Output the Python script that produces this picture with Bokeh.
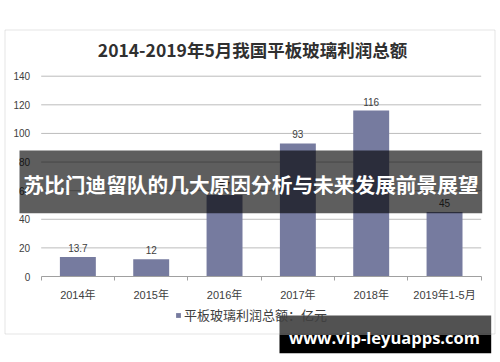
from bokeh.plotting import figure
from bokeh.models import (Range1d, FixedTicker, ColumnDataSource, LabelSet, Label,
                          BoxAnnotation, Legend, LegendItem, LinearAxis)
from bokeh.core.properties import value
from bokeh.embed import file_html
from bokeh.resources import INLINE

# ---- data ----
categories = ["2014年", "2015年", "2016年", "2017年", "2018年", "2019年1-5月"]
profits = [13.7, 12, 57, 93, 116, 45]
y_ticks = [0, 20, 40, 60, 80, 100, 120, 140]
title_text = "2014-2019年5月我国平板玻璃利润总额"
series_name = "平板玻璃利润总额：亿元"
banner_text = "苏比门迪留队的几大原因分析与未来发展前景展望"
watermark_text = "www.vip-leyuapps.com"

# ---- layout (frame = whole figure, page origin = figure origin) ----
FIG_W, FIG_H = 500, 362
PLOT_L, PLOT_R = 40.7, 480.7      # x of category axis ends
PLOT_T, PLOT_B = 75.7, 276.0      # y of top (140) and bottom (0)
n = len(categories)
ppx = (PLOT_R - PLOT_L) / n
ppy = (PLOT_B - PLOT_T) / (y_ticks[-1] - y_ticks[0])
x_start = -PLOT_L / ppx
x_end = x_start + FIG_W / ppx
y_start = -(FIG_H - PLOT_B) / ppy
y_end = y_start + FIG_H / ppy


def sx(X):
    return X


def sy(Y):
    return FIG_H - Y


LATIN = "'Liberation Sans', 'Noto Sans CJK SC'"
CJK = "'Noto Sans CJK SC'"
TXT = "#404040"
GRID = "#bcbcbc"
BAR = "#767b9f"

xs = [i + 0.5 for i in range(n)]

p = figure(width=FIG_W, height=FIG_H, output_backend="svg", toolbar_location=None,
           x_range=Range1d(x_start, x_end), y_range=Range1d(y_start, y_end),
           min_border=0, x_axis_location=None, y_axis_location=None,
           background_fill_color="white", border_fill_color="white")
p.outline_line_color = None
p.xgrid.visible = False
p.ygrid.visible = False

# gridlines from the tick list
p.segment(x0=0, x1=n, y0=y_ticks[1:], y1=y_ticks[1:], line_color=GRID, line_width=1)

src = ColumnDataSource(dict(x=xs, top=profits, label=[f"{v:g}" for v in profits]))
bars = p.vbar(x="x", top="top", width=0.49, bottom=0, source=src,
              fill_color=BAR, line_color=None)

# y axis (fixed at category start)
yax = LinearAxis(fixed_location=0, ticker=FixedTicker(ticks=y_ticks))
yax.axis_line_color = None
yax.major_tick_line_color = None
yax.minor_tick_line_color = None
yax.major_tick_out = 0
yax.major_label_standoff = 11
yax.major_label_text_font = LATIN
yax.major_label_text_font_size = "10px"
yax.major_label_text_color = TXT
p.add_layout(yax, "left")

# x axis: labels at centres, ticks at boundaries
xax = LinearAxis(fixed_location=0, bounds=(0, n),
                 ticker=FixedTicker(ticks=xs, minor_ticks=list(range(n + 1))))
xax.major_label_overrides = {x: c for x, c in zip(xs, categories)}
xax.axis_line_color = "#a0a0a0"
xax.major_tick_line_color = None
xax.major_tick_out = 0
xax.minor_tick_line_color = "#a0a0a0"
xax.minor_tick_out = 4
xax.minor_tick_in = 0
xax.major_label_standoff = 8
xax.major_label_text_font = LATIN
xax.major_label_text_font_size = "11px"
xax.major_label_text_color = TXT
p.add_layout(xax, "below")

# value labels
p.add_layout(LabelSet(x="x", y="top", text="label", source=src, y_offset=5,
                      text_align="center", text_baseline="bottom",
                      text_font=value(LATIN), text_font_size="10px", text_color=TXT))

# outer chart border
p.add_layout(BoxAnnotation(left=sx(4.5), right=sx(494.5), top=sy(29.5), bottom=sy(333.5),
                           left_units="screen", right_units="screen",
                           top_units="screen", bottom_units="screen",
                           fill_color=None, line_color="#a6a6a6", line_width=1,
                           level="underlay"))

# title
p.add_layout(Label(x=sx(252), y=sy(49), x_units="screen", y_units="screen",
                   text=title_text, text_align="center", text_baseline="middle",
                   text_font=CJK, text_font_size="17.5px", text_font_style="bold",
                   text_color="#303030"))

# legend
legend = Legend(items=[LegendItem(label=series_name, renderers=[bars])],
                location=(sx(175), sy(324)), orientation="horizontal",
                glyph_width=6, glyph_height=6, label_standoff=3,
                padding=0, margin=0, spacing=0, label_height=14,
                border_line_color=None, background_fill_alpha=0,
                label_text_font=CJK, label_text_font_size="13px",
                label_text_color=TXT)
p.add_layout(legend)

# banner overlay
p.add_layout(BoxAnnotation(left=sx(19), right=sx(481.7), top=sy(150), bottom=sy(212.7),
                           left_units="screen", right_units="screen",
                           top_units="screen", bottom_units="screen",
                           fill_color="black", fill_alpha=0.63, line_color=None,
                           level="overlay"))
p.add_layout(Label(x=sx(250.5), y=sy(183.5), x_units="screen", y_units="screen",
                   text=banner_text, text_align="center", text_baseline="middle",
                   text_font=CJK, text_font_size="20.7px", text_font_style="bold",
                   text_color="white", level="overlay"))

# watermark
p.add_layout(BoxAnnotation(left=sx(279), right=sx(490.7), top=sy(315), bottom=sy(334),
                           left_units="screen", right_units="screen",
                           top_units="screen", bottom_units="screen",
                           fill_color="black", fill_alpha=0.68, line_color=None,
                           level="overlay"))
p.add_layout(BoxAnnotation(left=sx(279), right=sx(490.7), top=sy(334), bottom=sy(352.7),
                           left_units="screen", right_units="screen",
                           top_units="screen", bottom_units="screen",
                           fill_color="black", fill_alpha=1.0, line_color=None,
                           level="overlay"))
p.add_layout(Label(x=sx(384), y=sy(336.5), x_units="screen", y_units="screen",
                   text=watermark_text, text_align="center", text_baseline="middle",
                   text_font="'Open Sans'", text_font_size="16.5px",
                   text_font_style="bold", text_color="white", level="overlay"))

open("out.html", "w").write(file_html(p, INLINE))
